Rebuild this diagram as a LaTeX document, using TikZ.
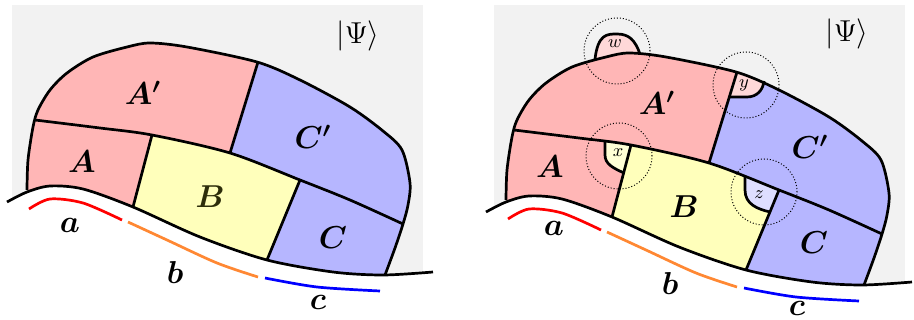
\documentclass[tikz,border=0pt]{standalone}
\usepackage{amsmath, amssymb}
\usepackage{tikz}

\definecolor{bggray}{RGB}{242,242,242}
\definecolor{pinkreg}{RGB}{255,182,182}
\definecolor{yellowreg}{RGB}{255,255,187}
\definecolor{bluereg}{RGB}{182,182,255}
\definecolor{pinkpale}{RGB}{255,216,216}
\definecolor{yellowpale}{RGB}{255,255,214}
\definecolor{bluepale}{RGB}{222,222,255}
\definecolor{arcorange}{RGB}{255,136,51}
\definecolor{olivetext}{RGB}{45,45,10}

% curves of one panel (pixel units)
\newcommand{\outlinepath}{plot[smooth] coordinates {(385,275) (395,248) (403,224) (408,205) (410,183) (402,150) (383,131) (350,107) (300,80) (257,62) (187,47) (150,43) (127,47) (93,57) (67,73) (50,90) (38,110) (33,127) (28,160) (27,190)}}
\newcommand{\midpath}{plot[smooth] coordinates {(35,120) (100,128) (152,135) (230,153) (300,180) (350,200) (403,224)}}
\newcommand{\groundpath}{plot[smooth] coordinates {(7,202) (27,192) (50,186) (83,189) (133,207) (200,237) (267,260) (333,272) (383,275) (433,272)}}

\newcommand{\panelregions}{%
  \begin{scope}
    \clip \outlinepath -- (27,300) -- (385,300) -- cycle;
    \fill[pinkreg] (0,0) rectangle (450,320);
    \begin{scope}
      \clip \midpath -- (450,224) -- (450,0) -- (0,0) -- (0,120) -- cycle;
      \fill[bluereg] (277,0) -- (215,200) -- (450,250) -- (450,0) -- cycle;
    \end{scope}
    \begin{scope}
      \clip \midpath -- (450,224) -- (450,330) -- (0,330) -- (0,120) -- cycle;
      \fill[yellowreg] (159,110) -- (128,226) -- (255,290) -- (308,160) -- cycle;
      \fill[bluereg] (308,160) -- (255,290) -- (450,290) -- (450,160) -- cycle;
    \end{scope}
  \end{scope}}

\newcommand{\panellines}{%
  \fill[white] \groundpath -- (433,340) -- (7,340) -- cycle;
  \draw[edgeline] \outlinepath;
  \draw[edgeline] \midpath;
  \draw[edgeline] (258,62) -- (230,153);
  \draw[edgeline] (152,135) -- (133,207);
  \draw[edgeline] (300,180) -- (267,260);
  \draw[edgeline] \groundpath;
  % boundary intervals
  \draw[edgeline, red] plot[smooth] coordinates {(29,209) (50,199) (83,203) (122,220)};
  \draw[edgeline, arcorange] plot[smooth] coordinates {(128,222) (167,240) (217,263) (258,277)};
  \draw[edgeline, blue] plot[smooth] coordinates {(265,278) (317,287) (380,291)};}

\begin{document}
\begin{tikzpicture}[x=0.5pt, y=-0.5pt,
    edgeline/.style={line width=1.35pt},
    probe/.style={draw, circle, densely dotted, line width=0.5pt, minimum size=33pt, inner sep=0pt},
    reglabel/.style={font=\Large, scale=1.1},
    ketlabel/.style={font=\Large, scale=1.05},
    tinylabel/.style={font=\small, inner sep=0pt}]
  \useasboundingbox (0,0) rectangle (914,320);

  % left panel
  \fill[bggray] (12,5) rectangle (423,300);
  \panelregions
  \panellines
  \node[ketlabel] (psiL) at (358,36) {$|\Psi\rangle$};
  \node[reglabel] (ApL) at (143,93) {$\boldsymbol{A'}$};
  \node[reglabel] (CpL) at (313,137) {$\boldsymbol{C'}$};
  \node[reglabel] (AL) at (82,162) {$\boldsymbol{A}$};
  \node[reglabel, text=olivetext] (BL) at (210,197) {$\boldsymbol{B}$};
  \node[reglabel] (CL) at (333,238) {$\boldsymbol{C}$};
  \node[reglabel] (aL) at (70,225) {$\boldsymbol{a}$};
  \node[reglabel] (bL) at (175,272) {$\boldsymbol{b}$};
  \node[reglabel] (cL) at (318,302) {$\boldsymbol{c}$};

  % right panel
  \fill[bggray] (494,5) rectangle (905,300);
  \begin{scope}[shift={(479,10)}]
    \panelregions
    \begin{scope}
      \clip \outlinepath -- (27,300) -- (385,300) -- cycle;
      \fill[pinkpale] (265,40) -- (250,87) -- (268,87) .. controls (278,87) and (284,80) .. (285,71) -- (292,40) -- cycle;
      \clip \midpath -- (450,224) -- (450,330) -- (0,330) -- (0,120) -- cycle;
      \fill[yellowpale] (126,120) -- (126,145) .. controls (126,154) and (134,158) .. (145,163) -- (156,120) -- cycle;
      \fill[bluepale] (266,150) -- (266,180) .. controls (266,194) and (278,199) .. (291,202) -- (312,150) -- cycle;
    \end{scope}
    \fill[pinkpale] (116,49) .. controls (119,24) and (128,24) .. (138,24) .. controls (150,24) and (156,30) .. (161,44) -- (150,43) -- (138,44) -- (127,47) -- cycle;
    \panellines
    % cut-out corners
    \draw[edgeline] (116,49) .. controls (119,24) and (128,24) .. (138,24) .. controls (150,24) and (156,30) .. (161,44);
    \draw[edgeline] (250,87) -- (268,87) .. controls (278,87) and (284,80) .. (285,71);
    \draw[edgeline] (126,131) -- (126,145) .. controls (126,154) and (134,158) .. (145,163);
    \draw[edgeline] (266,166) -- (266,180) .. controls (266,194) and (278,199) .. (291,202);
  \end{scope}
  \node[probe] (pw) at (617,51) {};
  \node[probe] (py) at (746,85) {};
  \node[probe] (px) at (619,156) {};
  \node[probe] (pz) at (764,192) {};
  \node[tinylabel] (lw) at (615,44) {$w$};
  \node[tinylabel] (ly) at (744,85) {$y$};
  \node[tinylabel] (lx) at (618,153) {$x$};
  \node[tinylabel] (lz) at (759,195) {$z$};
  \node[ketlabel] (psiR) at (847,34) {$|\Psi\rangle$};
  \node[reglabel] (ApR) at (657,103) {$\boldsymbol{A'}$};
  \node[reglabel] (CpR) at (810,147) {$\boldsymbol{C'}$};
  \node[reglabel] (AR) at (550,167) {$\boldsymbol{A}$};
  \node[reglabel] (BR) at (684,207) {$\boldsymbol{B}$};
  \node[reglabel] (CR) at (814,243) {$\boldsymbol{C}$};
  \node[reglabel] (aR) at (554,228) {$\boldsymbol{a}$};
  \node[reglabel] (bR) at (670,283) {$\boldsymbol{b}$};
  \node[reglabel] (cR) at (797,308) {$\boldsymbol{c}$};
\end{tikzpicture}
\end{document}
